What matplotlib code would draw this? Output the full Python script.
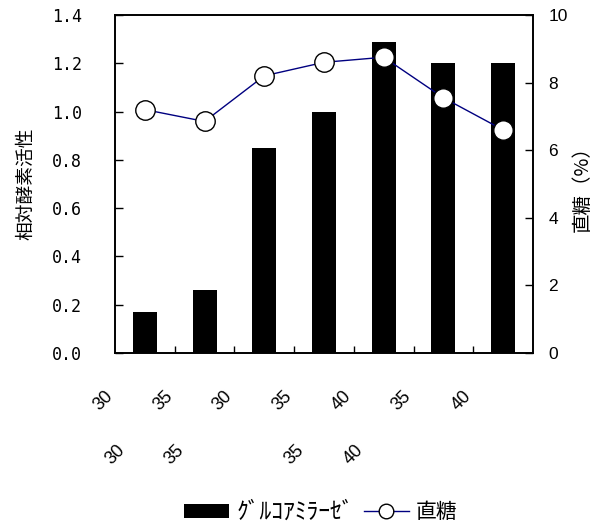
import numpy as np
import matplotlib
matplotlib.use("Agg")
import matplotlib.pyplot as plt
import matplotlib.transforms as mtransforms
from matplotlib.ticker import FixedLocator

plt.rcParams['font.family'] = ['Liberation Sans', 'Noto Sans CJK JP', 'DejaVu Sans']

# glucoamylase activity (bars, left axis) and reducing sugar (line, right axis)
row1_labels = ["30", "35", "30", "35", "40", "35", "40"]
row2_labels = ["30", "35", "", "35", "40", "", ""]
activity = [0.17, 0.26, 0.85, 1.00, 1.29, 1.20, 1.20]
sugar = [7.2, 6.85, 8.2, 8.6, 8.75, 7.55, 6.6]

x = np.arange(len(activity))

fig = plt.figure(figsize=(6.0, 5.26), dpi=100)
ax = fig.add_axes([0.1917, 0.329, 0.6966, 0.6425])
ax2 = ax.twinx()

bars = ax.bar(x, activity, width=0.4, color='black', label='ｸﾞﾙｺｱﾐﾗｰｾﾞ', zorder=2)
line, = ax2.plot(x, sugar, color='#000080', lw=1.0, marker='o', ms=14,
                 mfc='white', mec='black', mew=1.0, label='直糖', zorder=3)

ax.set_xlim(-0.5, len(activity) - 0.5)
ax.set_ylim(0, 1.4)
ax2.set_ylim(0, 10)
ax.set_yticks(np.arange(0, 1.41, 0.2))
ax.set_yticklabels(['%.1f' % v for v in np.arange(0, 1.41, 0.2)],
                   family='DejaVu Sans Mono', fontsize=12)
ax2.set_yticks(np.arange(0, 11, 2))
ax2.tick_params(axis='y', labelsize=12.5)

ax.xaxis.set_major_locator(FixedLocator(x[:-1] + 0.5))
ax.set_xticklabels([])
ax.tick_params(axis='x', direction='in', length=5, width=1)
ax.tick_params(axis='y', direction='in', length=6, width=1, pad=24)
ax2.tick_params(axis='y', direction='in', length=6, width=1, pad=11)

for a in (ax, ax2):
    for s in a.spines.values():
        s.set_linewidth(1.2)

# two rows of rotated category labels below the axis
trans = mtransforms.blended_transform_factory(ax.transData, ax.transAxes)
for i, (t1, t2) in enumerate(zip(row1_labels, row2_labels)):
    ax.text(i - 0.70, -0.141, t1, rotation=45, ha='center', va='center',
            fontsize=13, transform=trans)
    if t2:
        ax.text(i - 0.50, -0.302, t2, rotation=45, ha='center', va='center',
                fontsize=13, transform=trans)

ax.set_ylabel('相対酵素活性', fontsize=13.5, family='Noto Sans CJK JP', labelpad=11)
ax2.set_ylabel('直糖（%）', fontsize=14, family='Noto Sans CJK JP', labelpad=3)

leg = fig.legend(handles=[bars, line], loc='center', bbox_to_anchor=(0.535, 0.027),
                 ncol=2, frameon=False, handlelength=2.15, handleheight=0.6,
                 columnspacing=0.5, handletextpad=0.35, markerscale=0.75,
                 prop={'family': ['Noto Sans CJK JP'], 'size': 15})
leg.get_texts()[0].set_fontsize(17)

fig.savefig('out.png', dpi=100)
